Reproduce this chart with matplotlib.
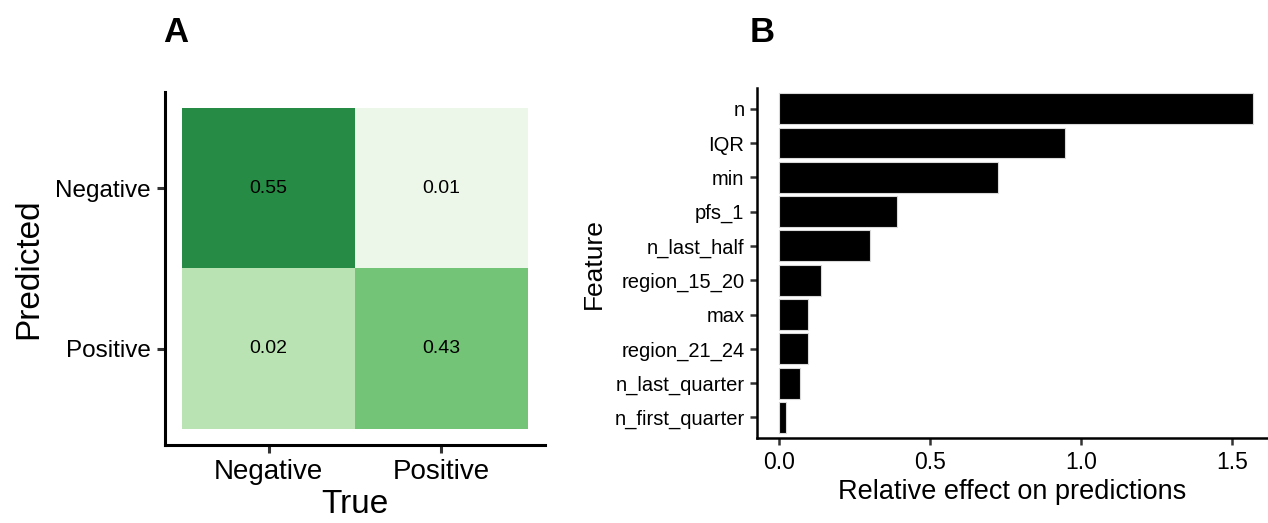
import numpy as np
import matplotlib
matplotlib.use('Agg')
import matplotlib.pyplot as plt
from matplotlib.colors import to_rgb

plt.rcParams['font.family'] = ['Liberation Sans', 'DejaVu Sans']

# --- data: confusion matrix (rows = predicted, cols = true) ---
classes = ['Negative', 'Positive']
conf = [[0.55, 0.01],
        [0.02, 0.43]]
cell_colors = [['#268b45', '#edf7e9'],
               ['#bae3b3', '#73c476']]

# --- data: feature importance ---
features = ['n', 'IQR', 'min', 'pfs_1', 'n_last_half', 'region_15_20',
            'max', 'region_21_24', 'n_last_quarter', 'n_first_quarter']
effect = [1.57, 0.947, 0.725, 0.39, 0.30, 0.14, 0.096, 0.096, 0.07, 0.023]

fig = plt.figure(figsize=(12.68, 5.23), dpi=100)

# --- Panel A ---
axA = fig.add_axes([0.1301, 0.1491, 0.2997, 0.675])
rgb = np.array([[to_rgb(c) for c in row] for row in cell_colors])
axA.imshow(rgb, extent=(-0.5, 1.5, 1.5, -0.5), aspect='auto', interpolation='nearest')
for i in range(len(classes)):
    for j in range(len(classes)):
        axA.text(j, i, f'{conf[i][j]:.2f}', ha='center', va='center', fontsize=14)
axA.set_xlim(-0.6, 1.6)
axA.set_ylim(1.6, -0.6)
axA.set_xticks(range(len(classes)))
axA.set_xticklabels(classes, fontsize=20)
axA.set_yticks(range(len(classes)))
axA.set_yticklabels(classes, fontsize=17.5)
axA.set_xlabel('True', fontsize=24, labelpad=3)
axA.set_ylabel('Predicted', fontsize=24, labelpad=8)
for s in ['top', 'right']:
    axA.spines[s].set_visible(False)
for s in ['left', 'bottom']:
    axA.spines[s].set_linewidth(2.2)
axA.tick_params(width=2.2, length=6, color='#333333', pad=4)
fig.text(163 / 1268, 1 - 33 / 523, 'A', fontsize=25, fontweight='bold', va='center')

# --- Panel B ---
axB = fig.add_axes([0.597, 0.1625, 0.403, 0.669])
ypos = np.arange(len(features))[::-1]
axB.barh(ypos, effect, height=0.9, color='black', edgecolor='#d9d9d9', linewidth=0.8)
axB.set_yticks(ypos)
axB.set_yticklabels(features, fontsize=14.5)
axB.set_ylim(-0.6, 9.6)
axB.set_xlim(-0.073, 1.62)
axB.set_xticks([0.0, 0.5, 1.0, 1.5])
axB.set_xticklabels(['0.0', '0.5', '1.0', '1.5'], fontsize=16.5)
axB.set_xlabel('Relative effect on predictions', fontsize=19.5, labelpad=4)
axB.set_ylabel('Feature', fontsize=19, labelpad=6)
for s in ['top', 'right']:
    axB.spines[s].set_visible(False)
for s in ['left', 'bottom']:
    axB.spines[s].set_linewidth(1.8)
axB.tick_params(width=1.8, length=5, color='#333333', pad=4)
fig.text(750 / 1268, 1 - 33 / 523, 'B', fontsize=25, fontweight='bold', va='center')

fig.savefig('out.png', dpi=100)
